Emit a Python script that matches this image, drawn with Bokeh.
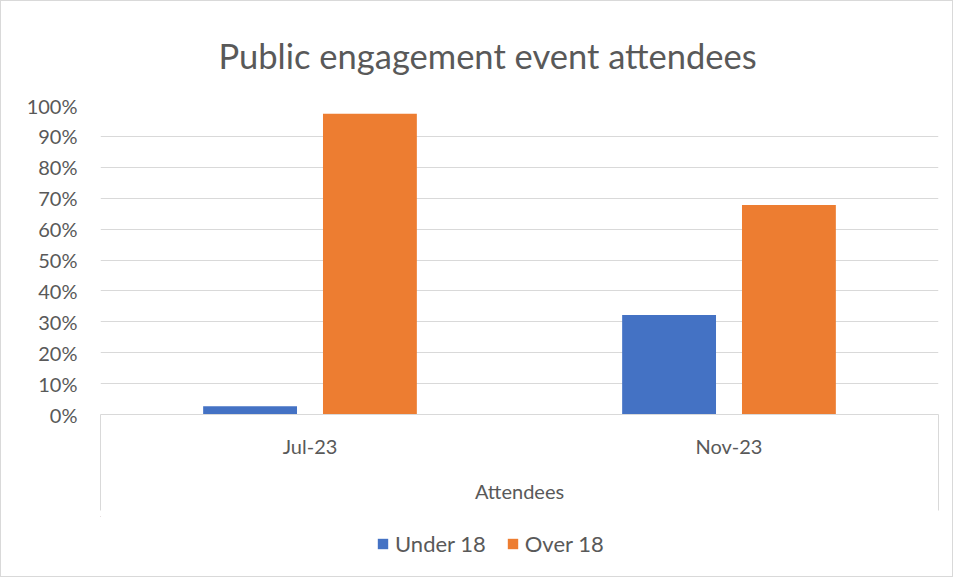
from bokeh.plotting import figure
from bokeh.models import (ColumnDataSource, FixedTicker, Range1d, Legend, LegendItem,
                          NumeralTickFormatter)
from bokeh.layouts import column
from bokeh.transform import dodge
from bokeh.embed import file_html
from bokeh.resources import INLINE

# ---- data ----
categories = ["Jul-23", "Nov-23"]
under_18 = [0.027, 0.322]
over_18 = [0.973, 0.678]
series_names = ["Under 18", "Over 18"]
series_colors = ["#4472C4", "#ED7D31"]
y_ticks = [0.0, 0.1, 0.2, 0.3, 0.4, 0.5, 0.6, 0.7, 0.8, 0.9, 1.0]
group_label = "Attendees"
title_text = "Public engagement event attendees"

FONT = "Lato"
TXT = "#595959"
GRID = "#d9d9d9"

W, H = 951, 575
HP = 515

xs = [i + 0.5 for i in range(len(categories))]
src = ColumnDataSource(dict(x=xs, under=under_18, over=over_18))

p = figure(width=W, height=HP,
           x_range=Range1d(0, len(categories)), y_range=Range1d(0, 1),
           output_backend="svg", toolbar_location=None,
           min_border_left=99, min_border_right=W - 937,
           min_border_top=104, min_border_bottom=HP - 413)

p.title.text = title_text
p.title.text_font = FONT
p.title.text_font_size = "34.5px"
p.title.text_font_style = "normal"
p.title.text_color = TXT
p.title.align = "left"
p.title.offset = 118
p.title.standoff = 60

r1 = p.vbar(x=dodge("x", -0.143, range=p.x_range), top="under", width=0.224,
            source=src, fill_color=series_colors[0], line_color=None)
r2 = p.vbar(x=dodge("x", 0.143, range=p.x_range), top="over", width=0.224,
            source=src, fill_color=series_colors[1], line_color=None)

p.outline_line_color = None
p.xgrid.visible = False
p.ygrid.grid_line_color = GRID
p.ygrid.grid_line_width = 1
p.ygrid.ticker = FixedTicker(ticks=y_ticks)

ya = p.yaxis[0]
ya.ticker = FixedTicker(ticks=y_ticks)
ya.formatter = NumeralTickFormatter(format="0%")
ya.axis_line_color = None
ya.major_tick_line_color = None
ya.minor_tick_line_color = None
ya.major_tick_out = 0
ya.major_label_standoff = 23
ya.major_label_text_font = FONT
ya.major_label_text_font_size = "20px"
ya.major_label_text_color = TXT

xa = p.xaxis[0]
xa.ticker = FixedTicker(ticks=xs, minor_ticks=[0, len(categories)])
xa.major_label_overrides = {x: c for x, c in zip(xs, categories)}
xa.axis_line_color = GRID
xa.major_tick_line_color = None
xa.major_tick_out = 0
xa.minor_tick_line_color = GRID
xa.minor_tick_in = 0
xa.minor_tick_out = 96
xa.major_label_standoff = -77
xa.major_label_text_font = FONT
xa.major_label_text_font_size = "20px"
xa.major_label_text_color = TXT
xa.axis_label = group_label
xa.axis_label_standoff = 18
xa.axis_label_text_font = FONT
xa.axis_label_text_font_size = "20px"
xa.axis_label_text_font_style = "normal"
xa.axis_label_text_color = TXT

# ---- legend strip below the chart (its bars are kept out of its view) ----
lf = figure(width=W, height=H - HP, x_range=Range1d(10, 12),
            y_range=Range1d(-2, -1), x_axis_type=None, y_axis_type=None,
            output_backend="svg", toolbar_location=None,
            min_border_left=0, min_border_right=0, min_border_top=0, min_border_bottom=0)
lf.outline_line_color = None
l1 = lf.vbar(x=dodge("x", -0.143, range=lf.x_range), top="under", width=0.224,
             source=src, fill_color=series_colors[0], line_color=None)
l2 = lf.vbar(x=dodge("x", 0.143, range=lf.x_range), top="over", width=0.224,
             source=src, fill_color=series_colors[1], line_color=None)

legend = Legend(items=[LegendItem(label=series_names[0], renderers=[l1]),
                       LegendItem(label=series_names[1], renderers=[l2])],
                orientation="horizontal", location=(276, 19),
                border_line_color=None, background_fill_alpha=0,
                label_text_font=FONT, label_text_font_size="22px",
                label_text_color=TXT, glyph_width=13, glyph_height=13,
                label_standoff=6, spacing=20, margin=0, padding=4)
lf.add_layout(legend, "center")

layout = column(p, lf, spacing=0, styles={"border": "1px solid #d9d9d9"})

open("out.html", "w").write(file_html(layout, INLINE))
